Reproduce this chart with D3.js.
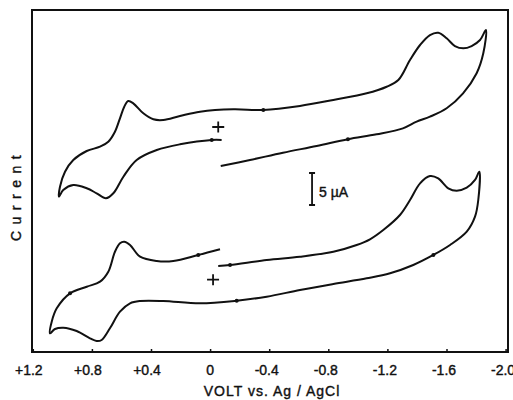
<!DOCTYPE html>
<html>
<head>
<meta charset="utf-8">
<script src="https://cdn.jsdelivr.net/npm/d3@7"></script>
<style>
  body { margin: 0; background: #fff; }
  text { font-family: "Liberation Sans", Arial, sans-serif; fill: #111; stroke: #111; stroke-width: 0.4; }
</style>
</head>
<body>
<svg id="chart"></svg>
<script>
// Tick values and labels of the potential axis
let voltTicks = [1.2, 0.8, 0.4, 0, -0.4, -0.8, -1.2, -1.6, -2.0];
let voltLabels = ["+1.2", "+0.8", "+0.4", "0", "-0.4", "-0.8", "-1.2", "-1.6", "-2.0"];

// Upper voltammogram: [potential V, current µA], in scan order
let upperCV = [
  [-0.072, 2.34], [-0.270, 3.28], [-0.493, 4.42], [-0.721, 5.47], [-0.933, 6.52],
  [-1.127, 7.30], [-1.305, 8.23], [-1.398, 9.27], [-1.488, 10.05], [-1.601, 11.36],
  [-1.712, 13.70], [-1.804, 16.83], [-1.849, 19.95], [-1.867, 23.59],
  [-1.827, 22.03], [-1.770, 21.09], [-1.714, 20.73], [-1.657, 21.09], [-1.601, 22.30],
  [-1.544, 23.17], [-1.488, 22.81], [-1.421, 21.25], [-1.353, 18.91], [-1.274, 15.78],
  [-1.195, 14.73], [-1.060, 13.70], [-0.834, 12.66], [-0.608, 11.72], [-0.360, 11.09],
  [-0.157, 11.20], [0.068, 10.83], [0.204, 10.16], [0.317, 9.53], [0.384, 9.64],
  [0.452, 10.58], [0.520, 12.14], [0.554, 12.50], [0.581, 11.61], [0.610, 9.80],
  [0.644, 7.70], [0.689, 6.14], [0.745, 5.36], [0.835, 4.69], [0.926, 3.28],
  [0.982, 1.45], [1.016, -0.89], [1.023, -2.45],
  [0.994, -1.41], [0.926, -0.63], [0.835, -1.14], [0.768, -1.92], [0.705, -2.70],
  [0.655, -1.92], [0.587, 0.67], [0.497, 3.28], [0.361, 4.84], [0.204, 5.73],
  [-0.011, 6.41], [-0.078, 6.41]
];

// Lower voltammogram: [potential V, current µA], in scan order
let lowerCV = [
  [-0.055, -13.28], [-0.135, -13.13], [-0.383, -12.34], [-0.608, -11.83], [-0.834, -11.05],
  [-0.992, -10.00], [-1.082, -9.11], [-1.172, -7.66], [-1.285, -5.31], [-1.353, -2.97],
  [-1.421, -0.36], [-1.488, 0.78], [-1.544, 0.42], [-1.612, -1.14], [-1.669, -1.52],
  [-1.737, -1.05], [-1.793, 0.16], [-1.822, 1.45],
  [-1.815, -2.97], [-1.793, -5.58], [-1.737, -7.92], [-1.624, -10.00], [-1.511, -11.56],
  [-1.375, -13.13], [-1.218, -14.42], [-1.060, -15.20], [-0.834, -16.09], [-0.608, -17.03],
  [-0.383, -18.08], [-0.180, -18.70], [0.068, -19.11], [0.317, -18.75], [0.474, -18.75],
  [0.542, -19.11], [0.610, -20.42], [0.678, -23.02], [0.734, -24.84], [0.768, -25.00],
  [0.813, -24.58], [0.903, -23.44], [0.994, -22.92], [1.050, -23.13], [1.084, -23.80],
  [1.072, -21.98], [1.038, -19.89], [0.948, -17.55], [0.835, -16.52], [0.745, -15.73],
  [0.689, -14.17], [0.644, -11.05], [0.610, -9.73], [0.581, -9.48], [0.542, -10.00],
  [0.474, -11.83], [0.361, -12.50], [0.249, -12.50], [0.080, -11.56], [-0.067, -10.67]
];

// Small dots along the traces and the "+" starting marks
let scanDots = [
  [-0.933, 6.52], [-0.360, 11.09], [-0.011, 6.41],
  [-0.135, -13.13], [-1.511, -11.56], [-0.180, -18.70], [0.948, -17.55], [0.080, -11.56]
];
let plusMarks = [[-0.055, 8.44], [-0.020, -15.42]];

// Scale bar: 5 µA
let scaleBar = { volt: -0.690, from: 1.25, to: -3.75, label: "5 µA" };

let width = 513, height = 400;
let frame = { left: 32, right: 508, top: 10, bottom: 352 };

let svg = d3.select("#chart")
  .attr("width", width)
  .attr("height", height);

// Scales: potential runs from +1.2 on the left to -2.0 on the right
let x = d3.scaleLinear().domain([1.2, -2.0]).range([32.8, 505.6]);
let y = d3.scaleLinear().domain([-26.72, 26.72]).range([frame.bottom, frame.top]);

// Frame
svg.append("rect")
  .attr("x", frame.left)
  .attr("y", frame.top)
  .attr("width", frame.right - frame.left)
  .attr("height", frame.bottom - frame.top)
  .attr("fill", "none")
  .attr("stroke", "#111")
  .attr("stroke-width", 2);

// Small inward ticks on the bottom edge
let xAxis = d3.axisBottom(x).tickValues(voltTicks).tickSize(-3).tickFormat("");
let axisG = svg.append("g")
  .attr("transform", `translate(0,${frame.bottom})`)
  .call(xAxis);
axisG.select(".domain").remove();
axisG.selectAll("line").attr("stroke", "#111").attr("stroke-width", 1.5);

// Tick labels, centred on the number without its sign
svg.append("g").selectAll("text")
  .data(voltTicks)
  .join("text")
  .attr("x", d => x(d))
  .attr("y", 375)
  .attr("dx", (d, i) => voltLabels[i][0] === "+" ? -4 : (voltLabels[i][0] === "-" ? -2.5 : 0))
  .attr("text-anchor", "middle")
  .attr("font-size", 14)
  .text((d, i) => voltLabels[i]);

// Axis titles
svg.append("text")
  .attr("x", 272)
  .attr("y", 396)
  .attr("text-anchor", "middle")
  .attr("font-size", 14)
  .attr("letter-spacing", 1)
  .text("VOLT vs. Ag / AgCl");

svg.append("text")
  .attr("transform", "translate(21,195) rotate(-90)")
  .attr("text-anchor", "middle")
  .attr("font-size", 14)
  .attr("letter-spacing", 6.5)
  .text("Current");

// Voltammograms
let line = d3.line()
  .x(d => x(d[0]))
  .y(d => y(d[1]))
  .curve(d3.curveCatmullRom.alpha(0.5));

[upperCV, lowerCV].forEach(cv => {
  svg.append("path")
    .attr("d", line(cv))
    .attr("fill", "none")
    .attr("stroke", "#111")
    .attr("stroke-width", 2)
    .attr("stroke-linejoin", "round");
});

svg.append("g").selectAll("circle")
  .data(scanDots)
  .join("circle")
  .attr("cx", d => x(d[0]))
  .attr("cy", d => y(d[1]))
  .attr("r", 2)
  .attr("fill", "#111");

// "+" marks
plusMarks.forEach(p => {
  let cx = x(p[0]), cy = y(p[1]);
  svg.append("path")
    .attr("d", `M${cx - 6},${cy} H${cx + 6} M${cx},${cy - 5.5} V${cy + 5.5}`)
    .attr("stroke", "#111")
    .attr("stroke-width", 1.8);
});

// Scale bar with end serifs
let bx = x(scaleBar.volt), by1 = y(scaleBar.from), by2 = y(scaleBar.to);
svg.append("path")
  .attr("d", `M${bx},${by1} V${by2} M${bx - 3},${by1} H${bx + 3} M${bx - 3},${by2} H${bx + 3}`)
  .attr("fill", "none")
  .attr("stroke", "#111")
  .attr("stroke-width", 1.8);

svg.append("text")
  .attr("x", bx + 7)
  .attr("y", 197)
  .attr("font-size", 14)
  .text(scaleBar.label);
</script>
</body>
</html>
